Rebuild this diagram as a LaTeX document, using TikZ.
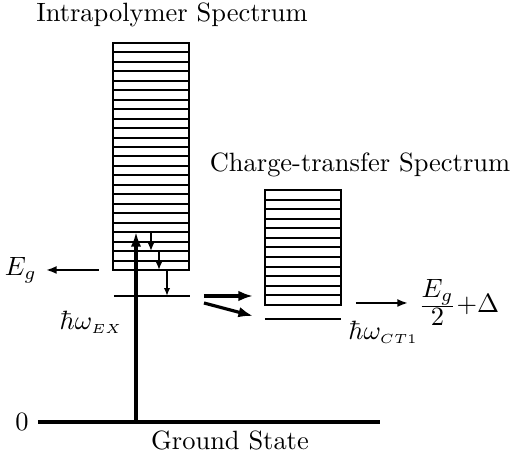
\documentclass[tikz,border=0pt]{standalone}
\usetikzlibrary{arrows.meta, positioning, calc}
\tikzset{
  band/.style={draw, line width=0.75pt},
  lvl/.style={line width=0.75pt},
  ground/.style={line width=1.2pt},
  arr/.style={-{Latex[length=5.5pt, width=4pt]}, line width=1.2pt},
  small arr/.style={-{Latex[length=3pt, width=2.4pt]}, line width=0.6pt},
  thin arr/.style={-{Latex[length=4pt, width=3pt]}, line width=0.75pt},
}
\begin{document}
\begin{tikzpicture}[x=0.378pt, y=-0.378pt]
    \useasboundingbox (0,0) rectangle (512,457);
    % spectra
    \coordinate (ip-nw) at (113,43);
    \coordinate (ip-se) at (189,270);
    \coordinate (ct-nw) at (265,190);
    \coordinate (ct-se) at (341,305);
    \draw[band] (ip-nw) rectangle (ip-se);
    \foreach \i in {1,...,23}
      \draw[lvl] ($(ip-nw)!\i/24!(ip-nw|-ip-se)$) -- ($(ip-se|-ip-nw)!\i/24!(ip-se)$);
    \draw[band] (ct-nw) rectangle (ct-se);
    \foreach \i in {1,...,11}
      \draw[lvl] ($(ct-nw)!\i/12!(ct-nw|-ct-se)$) -- ($(ct-se|-ct-nw)!\i/12!(ct-se)$);
    \node (ip-title) at (172,15) {Intrapolymer Spectrum};
    \node (ct-title) at (360,165) {Charge-transfer Spectrum};

    % levels
    \coordinate (ex-w) at (114,296);
    \coordinate (ex-e) at (190,296);
    \coordinate (ct1-w) at (265,319);
    \coordinate (ct1-e) at (341,319);
    \draw[lvl] (ex-w) -- (ex-e);
    \draw[lvl] (ct1-w) -- (ct1-e);
    \node (ex-lbl) at (91,322) {$\hbar\omega_{\scriptscriptstyle EX}$};
    \node (ct1-lbl) at (383,332) {$\hbar\omega_{\scriptscriptstyle CT1}$};

    % ground state
    \coordinate (gs-w) at (38,422);
    \coordinate (gs-e) at (380,422);
    \draw[ground] (gs-w) -- (gs-e);
    \node[left=0pt of gs-w] (zero) {0};
    \node (gs-lbl) at (230,440) {Ground State};

    % excitation and relaxation
    \coordinate (lvl20) at ($(ip-nw)!20/24!(ip-nw|-ip-se)$);
    \coordinate (lvl22) at ($(ip-nw)!22/24!(ip-nw|-ip-se)$);
    \coordinate (exc-0) at (136,422);
    \draw[arr] (exc-0) -- (exc-0 |- lvl20);
    \coordinate (r1-a) at ($(lvl20) + (38,0)$);
    \coordinate (r1-b) at ($(lvl22) + (38,0)$);
    \coordinate (r2-b) at ($(ip-nw|-ip-se) + (46,0)$);
    \coordinate (r3-a) at ($(ip-nw|-ip-se) + (54,0)$);
    \draw[small arr] (r1-a) -- (r1-b);
    \draw[small arr] (r2-b |- lvl22) -- (r2-b);
    \draw[small arr] (r3-a) -- (r3-a |- ex-w);

    % transfer
    \coordinate (t1-a) at (204,296);
    \coordinate (t1-b) at (253,296);
    \coordinate (t2-a) at (204,303);
    \coordinate (t2-b) at (253,316);
    \draw[arr] (t1-a) -- (t1-b);
    \draw[arr] (t2-a) -- (t2-b);

    % energies
    \coordinate (eg-a) at (99,270);
    \coordinate (eg-b) at (46,270);
    \draw[thin arr] (eg-a) -- (eg-b);
    \node[left=0pt of eg-b] (eg-lbl) {$E_g$};
    \coordinate (cte-a) at (356,303);
    \coordinate (cte-b) at (408,303);
    \draw[thin arr] (cte-a) -- (cte-b);
    \node[anchor=base west] (cte-lbl) at ($(cte-b) + (1,10)$)
      {$\frac{\textstyle E_g}{\textstyle 2}{+}\Delta$};
\end{tikzpicture}
\end{document}
